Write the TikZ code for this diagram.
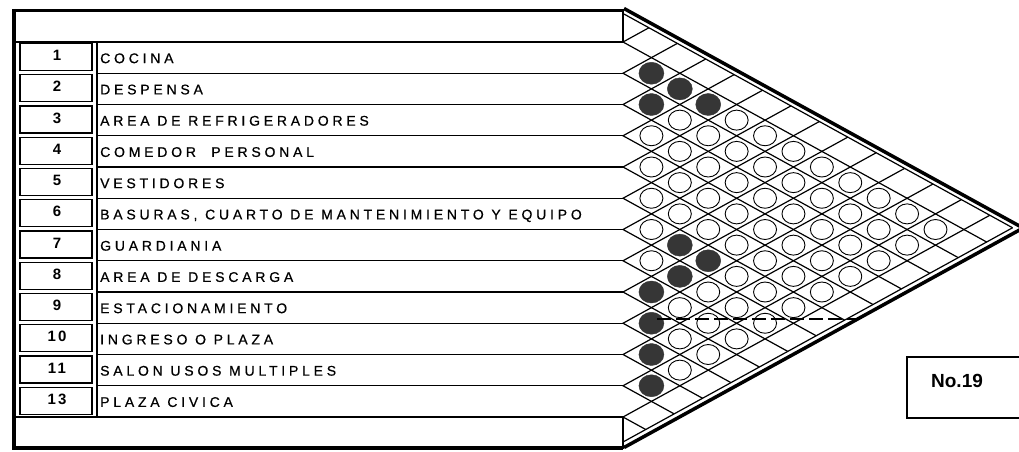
\documentclass[tikz,border=0pt]{standalone}
\usepackage{fontspec}
\setmainfont{Liberation Sans}
\newfontfamily\lblfont[LetterSpace=27,FakeBold=0.6]{Liberation Sans}
\newfontfamily\numfont[LetterSpace=15]{Liberation Sans}
\usetikzlibrary{shapes.geometric}
\definecolor{darkdot}{HTML}{363636}
\tikzset{
  frameline/.style={line width=3.5pt},
  edgeline/.style={line width=2.5pt},
  gridl/.style={line width=1.2pt, line join=miter},
  rowline/.style={line width=1.4pt},
  numbox/.style={line width=1.3pt},
  openc/.style={ellipse, draw, line width=0.9pt, minimum width=23pt, minimum height=20pt, inner sep=0pt},
  darkc/.style={ellipse, draw=darkdot, fill=darkdot, minimum width=25pt, minimum height=22pt, inner sep=0pt},
  lbl/.style={font=\lblfont\fontsize{14}{16}\selectfont, anchor=base west, inner sep=0pt},
  numlbl/.style={font=\numfont\bfseries\fontsize{15}{17}\selectfont, anchor=base, inner sep=0pt},
  dashline/.style={line width=1.2pt, dash pattern=on 14pt off 5pt},
}
\begin{document}
\begin{tikzpicture}[x=1pt,y=-1pt]
\clip (0,0) rectangle (1019,451);
\fill[white] (0,0) rectangle (1019,451);
\def\xo{623}
\def\s{0.55}
% grid lines of the matrix
\foreach \yk in {13.5,42,73.25,104.5,135.75,167,198.25,229.5,260.75,292,323.25,354.5,385.75,417,442}{
  \pgfmathsetmacro\dx{(442-\yk)/(2*\s)}
  \pgfmathsetmacro\ux{(\yk-13.5)/(2*\s)}
  \draw[gridl] (\xo+\ux,{(\yk+13.5)/2}) -- (\xo,\yk) -- (\xo+\dx,{(\yk+442)/2});
}
% outer thick diagonal frame
\coordinate (tl) at (\xo+1,8.5);
\coordinate (bl) at (\xo+1,447.5);
\coordinate (tip) at ({\xo+1+439/(2*\s)},228);
\draw[frameline] (tl) -- (tip) -- (bl);
% left part frame
\draw[frameline] (12.25,10.5) -- (\xo,10.5);
\draw[frameline] (14,8.75) -- (14,449.75);
\draw[frameline] (12.25,448) -- (\xo,448);
\draw[edgeline] (\xo,9) -- (\xo,42);
\draw[edgeline] (\xo,417) -- (\xo,449);
\draw[rowline] (14,42) -- (\xo,42);
\draw[rowline] (14,417) -- (\xo,417);
\foreach \yk in {73.25,104.5,135.75,167,198.25,229.5,260.75,292,323.25,354.5,385.75}{
  \draw[rowline] (97,\yk) -- (\xo,\yk);
}
\draw[rowline] (97,42) -- (97,417);
% rows
\foreach \n/\t [count=\i] in {1/COCINA,2/DESPENSA,3/AREA DE REFRIGERADORES,4/{COMEDOR\ \ PERSONAL},5/VESTIDORES,6/{BASURAS, CUARTO DE MANTENIMIENTO Y EQUIPO},7/GUARDIANIA,8/AREA DE DESCARGA,9/ESTACIONAMIENTO,10/INGRESO O PLAZA,11/SALON USOS MULTIPLES,13/PLAZA CIVICA}{
  \pgfmathsetmacro\ytop{42+31.25*(\i-1)}
  \pgfmathsetmacro\yc{\ytop+15.625}
  \draw[numbox] (20,\ytop+1.5) rectangle (92,\ytop+28.5);
  \node[numlbl] (n\i) at (57,\yc+3) {\n};
  \node[lbl] (l\i) at (100,\yc+5.5) {\t};
}
% circles
\foreach \i in {1,...,11}{
  \pgfmathtruncatemacro\ip{\i+1}
  \foreach \j in {\ip,...,12}{
    \node[openc] (c\i-\j) at ({\xo+(\j-\i)*31.25/(2*\s)},{42+31.25*(\i+\j-1)/2}) {};
  }
}
\foreach \i/\j in {1/2,1/3,1/4,2/3,6/8,6/9,7/9,8/9,9/10,10/11,11/12}{
  \node[darkc] (d\i-\j) at (c\i-\j) {};
}
% dashed line
\coordinate (dashA) at (657,319);
\coordinate (dashB) at (857,319);
\draw[dashline] (dashA) -- (dashB);
% No.19 box
\draw[line width=1.2pt] (907,357) rectangle (1030,418);
\node[font=\bfseries\fontsize{19}{22}\selectfont] (no19) at (957,381) {No.19};
\end{tikzpicture}
\end{document}
